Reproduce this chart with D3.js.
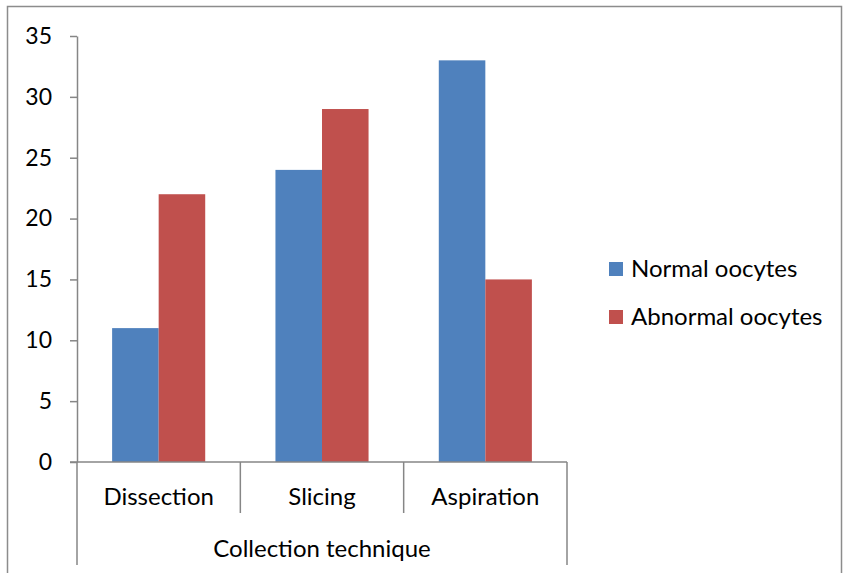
<!DOCTYPE html>
<html>
<head>
<meta charset="utf-8">
<script src="https://cdn.jsdelivr.net/npm/d3@7"></script>
<style>
  html, body { margin: 0; padding: 0; background: #fff; }
  svg text { font-family: Lato, "Open Sans", sans-serif; fill: #000; }
</style>
</head>
<body>
<svg id="chart" width="843" height="573"></svg>
<script>
// Oocyte counts by collection technique
const categories = ["Dissection", "Slicing", "Aspiration"];
const seriesNames = ["Normal oocytes", "Abnormal oocytes"];
const normalValues = [11, 24, 33];
const abnormalValues = [22, 29, 15];
const yTicks = [0, 5, 10, 15, 20, 25, 30, 35];
const axisTitle = "Collection technique";
const colors = ["#4F81BD", "#C0504D"];

const svg = d3.select("#chart");
const axisColor = "#868686";
const fontSize = 24;

// outer frame
svg.append("rect")
  .attr("x", 7.5).attr("y", 6.5)
  .attr("width", 834).attr("height", 580)
  .attr("fill", "none").attr("stroke", "#8c8c8c").attr("stroke-width", 1.5);

const x0 = 77, x1 = 567, yBase = 462, yTop = 36;

const x = d3.scaleBand().domain(categories).range([x0, x1])
  .paddingInner(0.43).paddingOuter(0.215);
const xs = d3.scaleBand().domain(seriesNames).range([0, x.bandwidth()]);
const y = d3.scaleLinear().domain([0, 35]).range([yBase, yTop]);

// y axis
const yAxis = svg.append("g").attr("transform", `translate(${x0},0)`)
  .call(d3.axisLeft(y).tickValues(yTicks).tickSize(7).tickSizeOuter(0).tickPadding(18));
yAxis.select(".domain").attr("stroke", axisColor).attr("stroke-width", 1.5);
yAxis.selectAll(".tick line").attr("stroke", axisColor).attr("stroke-width", 1.5);
yAxis.selectAll(".tick text").attr("font-size", 23).attr("font-family", "Lato, sans-serif");

// bars
const rows = categories.map((c, i) => ({ cat: c, vals: [normalValues[i], abnormalValues[i]] }));
const groups = svg.append("g").selectAll("g").data(rows).join("g")
  .attr("transform", d => `translate(${x(d.cat)},0)`);
groups.selectAll("rect").data(d => d.vals.map((v, j) => ({ v, s: seriesNames[j], j })))
  .join("rect")
  .attr("x", d => xs(d.s))
  .attr("width", xs.bandwidth())
  .attr("y", d => y(d.v))
  .attr("height", d => yBase - y(d.v))
  .attr("fill", d => colors[d.j]);

// x axis baseline with category dividers
const xAxisG = svg.append("g");
xAxisG.append("line")
  .attr("x1", x0 - 7).attr("x2", x1)
  .attr("y1", yBase).attr("y2", yBase)
  .attr("stroke", axisColor).attr("stroke-width", 1.5);
const step = x.step();
const bounds = categories.map((c, i) => x(c) - x.paddingInner() * step / 2);
bounds.push(x1);
bounds.forEach((b, i) => {
  const outer = (i === 0 || i === bounds.length - 1);
  xAxisG.append("line")
    .attr("x1", b).attr("x2", b)
    .attr("y1", yBase).attr("y2", outer ? 565 : 513)
    .attr("stroke", axisColor).attr("stroke-width", 1.5);
});
xAxisG.selectAll("text.cat").data(categories).join("text")
  .attr("class", "cat")
  .attr("x", d => x(d) + x.bandwidth() / 2)
  .attr("y", 505)
  .attr("text-anchor", "middle")
  .attr("font-size", fontSize)
  .text(d => d);
xAxisG.append("text")
  .attr("x", (x0 + x1) / 2).attr("y", 557)
  .attr("text-anchor", "middle").attr("font-size", fontSize)
  .text(axisTitle);

// legend
const legend = svg.append("g").selectAll("g").data(seriesNames).join("g")
  .attr("transform", (d, i) => `translate(609,${262 + i * 48})`);
legend.append("rect").attr("width", 14).attr("height", 14)
  .attr("fill", (d, i) => colors[i]);
legend.append("text").attr("x", 22).attr("y", 15)
  .attr("font-size", fontSize).text(d => d);
</script>
</body>
</html>
